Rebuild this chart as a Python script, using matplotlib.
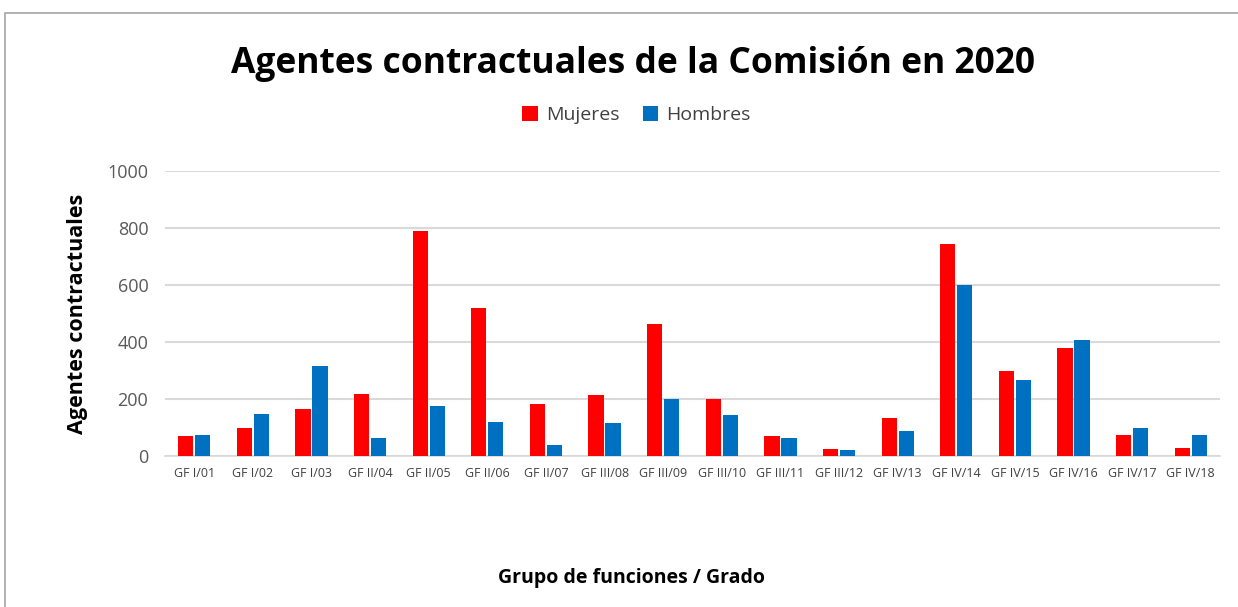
import numpy as np
import matplotlib.pyplot as plt
from matplotlib.patches import Rectangle

categories = ["GF I/01", "GF I/02", "GF I/03", "GF II/04", "GF II/05", "GF II/06",
              "GF II/07", "GF III/08", "GF III/09", "GF III/10", "GF III/11", "GF III/12",
              "GF IV/13", "GF IV/14", "GF IV/15", "GF IV/16", "GF IV/17", "GF IV/18"]
mujeres = [70, 100, 165, 218, 791, 520, 183, 213, 462, 200, 70, 26, 135, 745, 300, 380, 72, 29]
hombres = [75, 146, 316, 63, 174, 120, 38, 116, 200, 143, 62, 22, 88, 600, 265, 408, 98, 72]

plt.rcParams['font.family'] = ['Open Sans', 'DejaVu Sans']

fig = plt.figure(figsize=(12.38, 6.07), dpi=100)
ax = fig.add_axes([165 / 1238, 1 - 456 / 607, (1220 - 165) / 1238, (456 - 171) / 607])

x = np.arange(len(categories))
w = 0.26
ax.bar(x - 0.145, mujeres, w, color="#FF0000", label="Mujeres", zorder=3)
ax.bar(x + 0.145, hombres, w, color="#0070C0", label="Hombres", zorder=3)

ax.set_xlim(-0.5, len(categories) - 0.5)
ax.set_ylim(0, 1000)
ax.set_yticks(range(0, 1001, 200))
ax.set_xticks(x)
ax.set_xticklabels(categories, fontsize=9, color="#404040")
ax.tick_params(axis="y", labelsize=13, colors="#595959", length=0, pad=12)
ax.tick_params(axis="x", length=0, pad=8)
ax.grid(axis="y", color="#D9D9D9", linewidth=1.5, zorder=0)
for s in ["top", "right", "left"]:
    ax.spines[s].set_visible(False)
ax.spines["bottom"].set_color("#D9D9D9")
ax.spines["bottom"].set_linewidth(1.2)

ax.set_ylabel("Agentes contractuales", fontsize=15.5, fontweight="bold", labelpad=14)
fig.text(0.5 + 0.01, 1 - 578 / 607, "Grupo de funciones / Grado", fontsize=14,
         fontweight="bold", ha="center", va="center")
fig.text(0.511, 1 - 64 / 607, "Agentes contractuales de la Comisión en 2020", fontsize=25.5,
         fontweight="bold", ha="center", va="center")

fig.legend(loc="center", bbox_to_anchor=(0.514, 1 - 115 / 607), ncol=2, frameon=False,
           fontsize=14, handlelength=0.8, handleheight=0.8, handletextpad=0.4,
           columnspacing=1.2, labelcolor="#404040")

fig.patches.append(Rectangle((5 / 1238, -0.05), 1.2, 1 - 13 / 607 + 0.05, transform=fig.transFigure,
                             fill=False, edgecolor="#A6A6A6", linewidth=1.2))

fig.savefig("out.png", dpi=100)
